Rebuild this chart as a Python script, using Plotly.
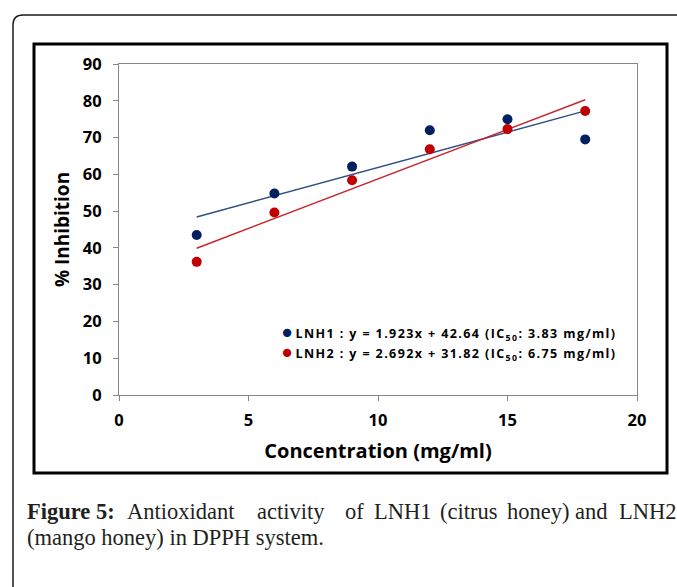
import plotly.graph_objects as go

# ---- data ----
concentration = [3, 6, 9, 12, 15, 18]
lnh1_inhibition = [43.5, 54.8, 62.1, 72.0, 75.0, 69.5]
lnh2_inhibition = [36.2, 49.6, 58.4, 66.8, 72.3, 77.2]
series_names = ["LNH1", "LNH2"]
slopes = [1.923, 2.692]
intercepts = [42.64, 31.82]
ic50 = [3.83, 6.75]
x_ticks = [0, 5, 10, 15, 20]
y_ticks = [0, 10, 20, 30, 40, 50, 60, 70, 80, 90]

W, H = 677, 587
L, R, T, B = 119, 637, 64, 395  # plot area in pixels


def px(x):
    return (x - L) / (R - L)


def py(y):
    return (B - y) / (B - T)


marker_colors = ["#002060", "#C00000"]
line_colors = ["#2F4F85", "#C8252B"]
font_sans = "'Open Sans', Lato, sans-serif"
font_serif = "'Liberation Serif', 'DejaVu Serif', serif"

fig = go.Figure()
values = [lnh1_inhibition, lnh2_inhibition]

for i in range(2):
    xs = [concentration[0], concentration[-1]]
    ys = [slopes[i] * x + intercepts[i] for x in xs]
    fig.add_trace(go.Scatter(x=xs, y=ys, mode="lines",
                             line=dict(color=line_colors[i], width=1.4),
                             showlegend=False, hoverinfo="skip"))
for i in range(2):
    fig.add_trace(go.Scatter(x=concentration, y=values[i], mode="markers",
                             marker=dict(color=marker_colors[i], size=10),
                             name=series_names[i], showlegend=False))

axis_common = dict(showgrid=False, zeroline=False, showline=True,
                   linecolor="#868686", linewidth=1.2, mirror=True,
                   ticks="outside", ticklen=5, tickcolor="#868686",
                   tickfont=dict(family=font_sans, size=16.5, color="#000000",
                                 weight="bold"))

fig.update_xaxes(range=[0, 20], tickvals=x_ticks, ticklabelstandoff=5,
                 title=dict(text="<b>Concentration (mg/ml)</b>", standoff=14,
                            font=dict(family=font_sans, size=20, color="#000")),
                 **axis_common)
fig.update_yaxes(range=[0, 90], tickvals=y_ticks, ticklabelstandoff=8,
                 title=dict(text="<b>% Inhibition</b>", standoff=8,
                            font=dict(family=font_sans, size=19, color="#000")),
                 **axis_common)

annotations = []
# legend-like entries with equations
leg_y = [332, 352]
for i in range(2):
    txt = (f"<span style='color:{marker_colors[i]};font-size:17px'>●</span> "
           f"<span style='letter-spacing:1.4px'><b>{series_names[i]} : y = "
           f"{slopes[i]:.3f}x + {intercepts[i]:.2f} "
           f"(IC<sub>50</sub>: {ic50[i]:.2f} mg/ml)</b></span>")
    annotations.append(dict(x=px(280), y=py(leg_y[i]), xref="paper", yref="paper",
                            text=txt, showarrow=False, xanchor="left",
                            yanchor="middle",
                            font=dict(family=font_sans, size=12.5, color="#000")))

# caption (justified first line, natural second line)
line1_words = [("<b>Figure 5:</b>", 25), ("Antioxidant", 125), ("activity", 255),
               ("of", 343), ("LNH1", 372), ("(citrus", 438), ("honey)", 505),
               ("and", 573), ("LNH2", 617)]
for w, x in line1_words:
    annotations.append(dict(x=px(x), y=py(511), xref="paper", yref="paper",
                            text=w, showarrow=False, xanchor="left",
                            yanchor="middle",
                            font=dict(family=font_serif, size=22.5,
                                      color="#231F20")))
annotations.append(dict(x=px(25), y=py(537), xref="paper", yref="paper",
                        text="(mango honey) in DPPH system.", showarrow=False,
                        xanchor="left", yanchor="middle",
                        font=dict(family=font_serif, size=22.5, color="#231F20")))

shapes = [
    dict(type="rect", xref="paper", yref="paper",
         x0=px(34), x1=px(667), y0=py(44), y1=py(473),
         line=dict(color="#000", width=3), layer="below"),
    dict(type="path", xref="paper", yref="paper",
         path=(f"M {px(13)},{py(600)} L {px(13)},{py(25)} "
               f"Q {px(13)},{py(15)} {px(23)},{py(15)} L {px(700)},{py(15)}"),
         line=dict(color="#1a1a1a", width=1.5)),
]

fig.update_layout(width=W, height=H,
                  margin=dict(l=L, r=W - R, t=T, b=H - B, autoexpand=False),
                  paper_bgcolor="white", plot_bgcolor="white",
                  showlegend=False, annotations=annotations, shapes=shapes)

fig.write_html("out.html", config={"displayModeBar": False},
               post_script="document.body.style.margin='0';"
                           "document.body.style.overflow='hidden';")
